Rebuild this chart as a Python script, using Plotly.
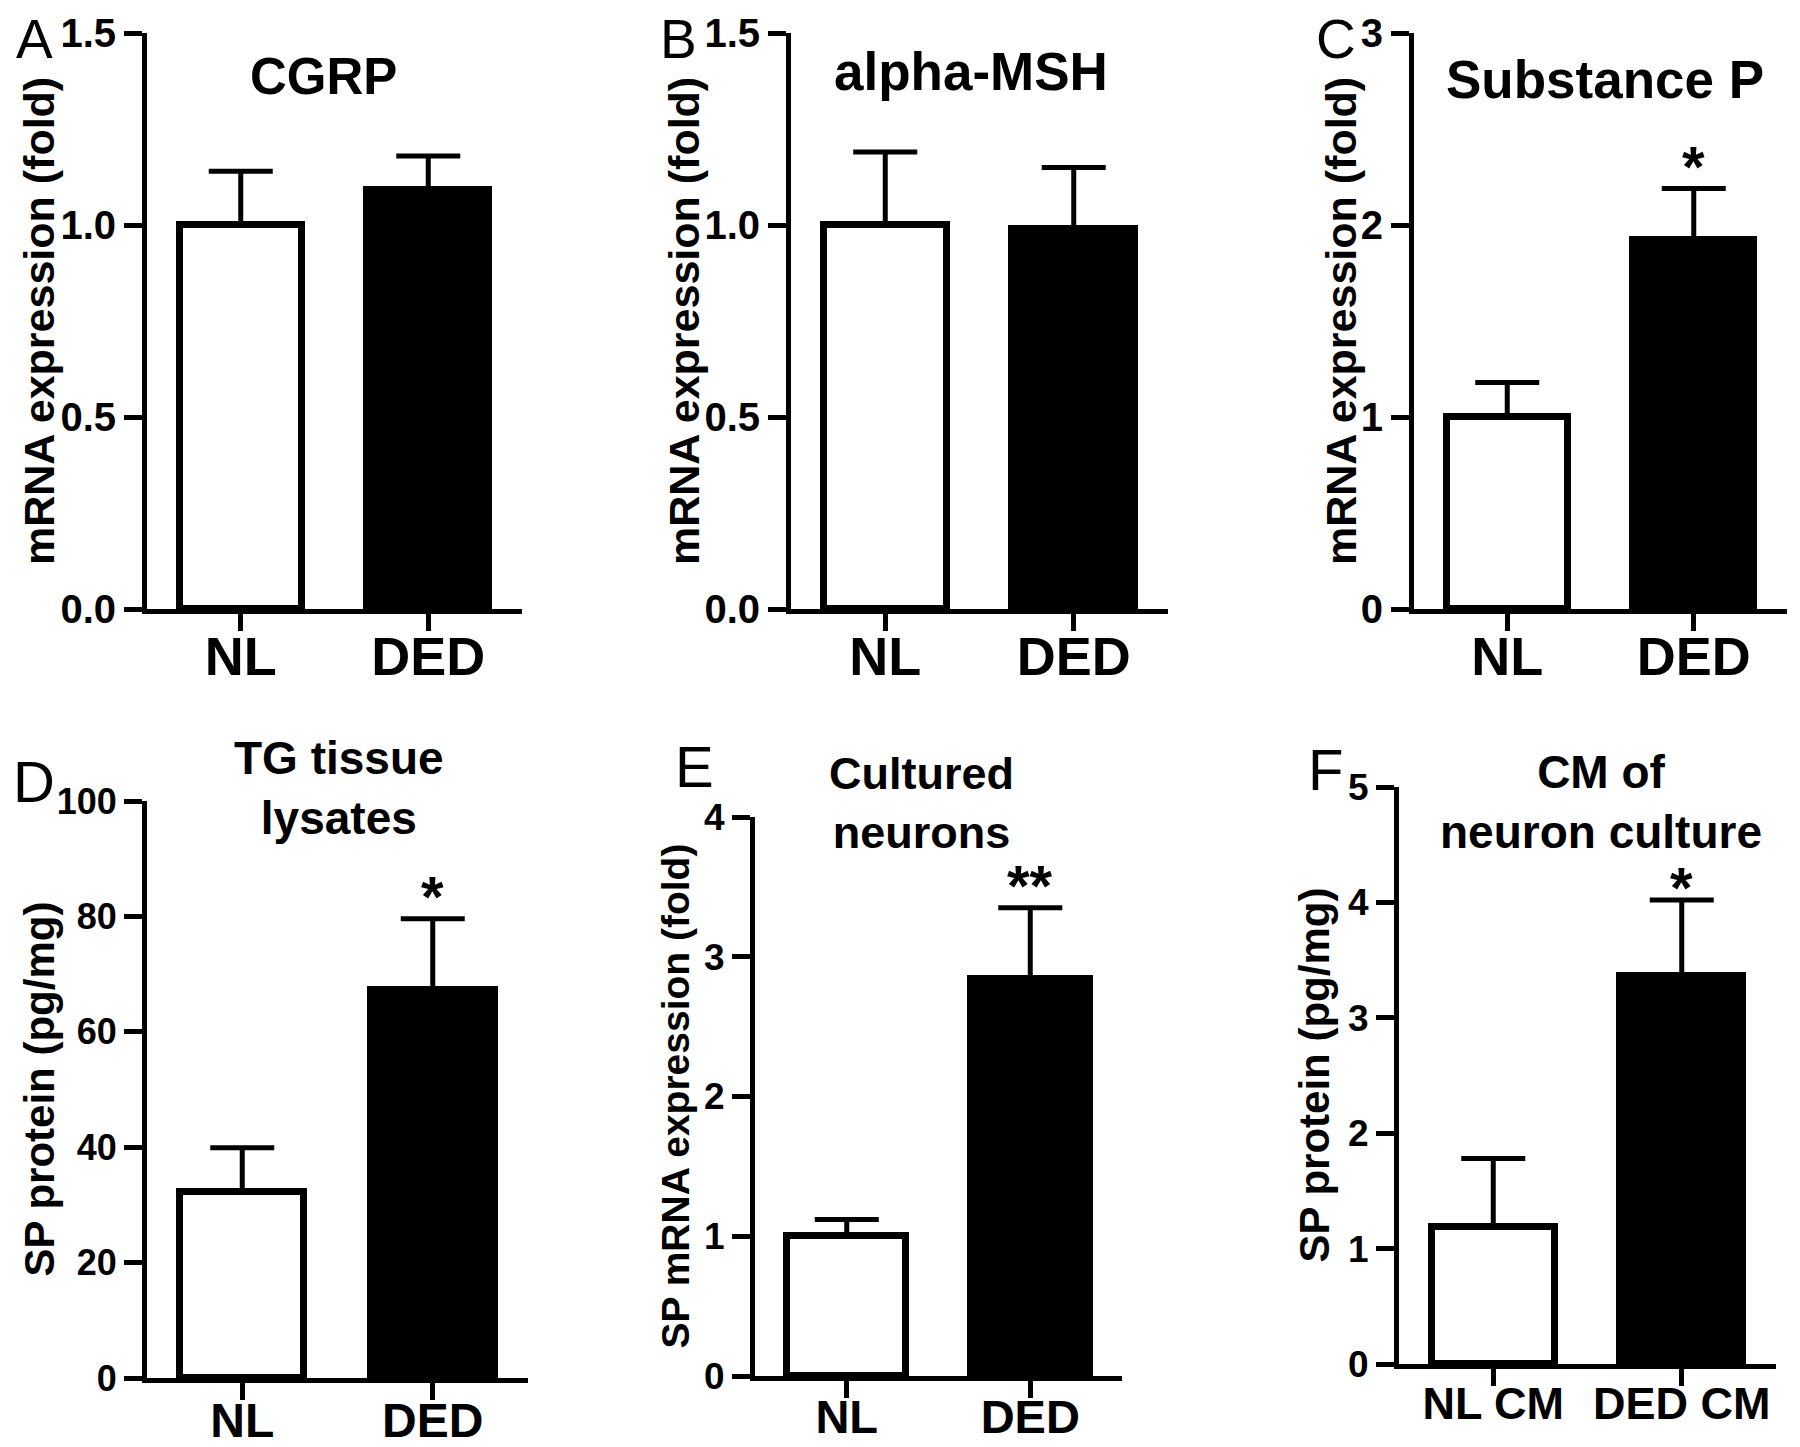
import plotly.graph_objects as go

W, H = 1800, 1447
OFF = 8  # page body margin of the viewer, compensated in pixel->paper conversion
FONT = "Liberation Sans, Arial, sans-serif"

# ---------------- data ----------------
cats_main = ["NL", "DED"]
cats_cm = ["NL CM", "DED CM"]

cgrp_mean = [1.00, 1.09]
cgrp_sem = [0.14, 0.09]

msh_mean = [1.00, 0.99]
msh_sem = [0.19, 0.16]

sp_mean = [1.00, 1.92]
sp_sem = [0.18, 0.27]

tg_mean = [32.3, 67.2]
tg_sem = [7.6, 12.4]

neuron_mean = [1.00, 2.84]
neuron_sem = [0.12, 0.51]

cm_mean = [1.19, 3.36]
cm_sem = [0.59, 0.66]

panel_letters = ["A", "B", "C", "D", "E", "F"]
panel_titles = ["CGRP", "alpha-MSH", "Substance P",
                "TG tissue<br>lysates", "Cultured<br>neurons", "CM of<br>neuron culture"]
y_titles = ["mRNA expression (fold)", "mRNA expression (fold)", "mRNA expression (fold)",
            "SP protein (pg/mg)", "SP mRNA expression (fold)", "SP protein (pg/mg)"]
sig_marks = ["", "", "*", "*", "**", "*"]
y_max = [1.5, 1.5, 3, 100, 4, 5]
y_dtick = [0.5, 0.5, 1, 20, 1, 1]
y_fmt = [".1f", ".1f", "", "", "", ""]

panel_cats = [cats_main, cats_main, cats_main, cats_main, cats_main, cats_cm]
panel_mean = [cgrp_mean, msh_mean, sp_mean, tg_mean, neuron_mean, cm_mean]
panel_sem = [cgrp_sem, msh_sem, sp_sem, tg_sem, neuron_sem, cm_sem]

# ---------------- layout (pixel boxes) ----------------
# (x_left, x_right, y_top, y_bottom) of each plot area
boxes = [(147, 522, 33, 609), (791, 1168, 33, 609), (1414, 1787, 33, 609),
         (147, 528, 801, 1378), (755, 1122, 817, 1376), (1399, 1776, 787, 1364)]
letter_pos = [(34, 39), (678, 39), (1336, 39), (34, 781), (694, 767), (1325, 769)]
letter_size = [55, 55, 55, 58, 58, 58]
title_pos = [(323, 77), (971, 72), (1605, 80), (339, 788), (921, 803), (1601, 802)]
title_size = [51, 53, 53, 46, 45, 46]
ytitle_x = [39, 684, 1341, 39, 675, 1314]
ytitle_size = [43, 43, 43, 42, 39, 42]
xtick_size = [54, 54, 54, 48, 47, 45]
ytick_size = [40, 40, 40, 36, 37, 37]
sig_shift = [0, 0, -12, -12, -12, -22]
bar_fill = ["white", "black"]


def px(x):
    return (x - OFF) / W


def py(y):
    return 1 - (y - OFF) / H


fig = go.Figure()
annotations = []
layout_axes = {}

for i in range(6):
    sfx = "" if i == 0 else str(i + 1)
    xa, ya = "x" + sfx, "y" + sfx
    x0, x1, y0, y1 = boxes[i]
    fig.add_trace(go.Bar(
        x=panel_cats[i], y=panel_mean[i], width=0.65,
        marker=dict(color=bar_fill, line=dict(color="black", width=7)),
        error_y=dict(type="data", symmetric=False, array=panel_sem[i],
                     arrayminus=[0, 0], color="black", thickness=5, width=32),
        xaxis=xa, yaxis=ya, showlegend=False, hoverinfo="skip"))

    layout_axes["xaxis" + sfx] = dict(
        domain=[px(x0), px(x1)], anchor=ya, type="category", range=[-0.5, 1.5],
        showline=True, linewidth=5, linecolor="black", ticks="outside",
        ticklen=17, tickwidth=5, tickcolor="black", showgrid=False, zeroline=False,
        ticklabelstandoff=-21,
        tickfont=dict(family=FONT, size=xtick_size[i], color="black", weight="bold"),
        fixedrange=True)
    layout_axes["yaxis" + sfx] = dict(
        domain=[py(y1), py(y0)], anchor=xa, range=[0, y_max[i]],
        tick0=0, dtick=y_dtick[i], tickformat=y_fmt[i],
        showline=True, linewidth=5, linecolor="black", ticks="outside",
        ticklen=18, tickwidth=5, tickcolor="black", showgrid=False, zeroline=False,
        tickfont=dict(family=FONT, size=ytick_size[i], color="black", weight="bold"),
        fixedrange=True)

    # panel letter
    lx, ly = letter_pos[i]
    annotations.append(dict(text=panel_letters[i], x=px(lx), y=py(ly), xref="paper", yref="paper",
                            xanchor="center", yanchor="middle", showarrow=False,
                            font=dict(family=FONT, size=letter_size[i], color="black")))
    # title
    tx, ty = title_pos[i]
    annotations.append(dict(text="<b>" + panel_titles[i] + "</b>", x=px(tx), y=py(ty),
                            xref="paper", yref="paper", xanchor="center", yanchor="middle",
                            showarrow=False,
                            font=dict(family=FONT, size=title_size[i], color="black")))
    # y-axis title
    annotations.append(dict(text="<b>" + y_titles[i] + "</b>", x=px(ytitle_x[i]),
                            y=py((y0 + y1) / 2), xref="paper", yref="paper",
                            xanchor="center", yanchor="middle", textangle=-90, showarrow=False,
                            font=dict(family=FONT, size=ytitle_size[i], color="black")))
    # significance
    if sig_marks[i]:
        annotations.append(dict(text="<b>" + sig_marks[i] + "</b>", x=panel_cats[i][1],
                                y=panel_mean[i][1] + panel_sem[i][1], xref=xa, yref=ya,
                                xanchor="center", yanchor="bottom", yshift=sig_shift[i],
                                showarrow=False,
                                font=dict(family=FONT, size=58, color="black")))

fig.update_layout(width=W, height=H, margin=dict(l=0, r=0, t=0, b=0, autoexpand=False),
                  paper_bgcolor="white", plot_bgcolor="white",
                  annotations=annotations, bargap=0, **layout_axes)

fig.write_html("out.html")
